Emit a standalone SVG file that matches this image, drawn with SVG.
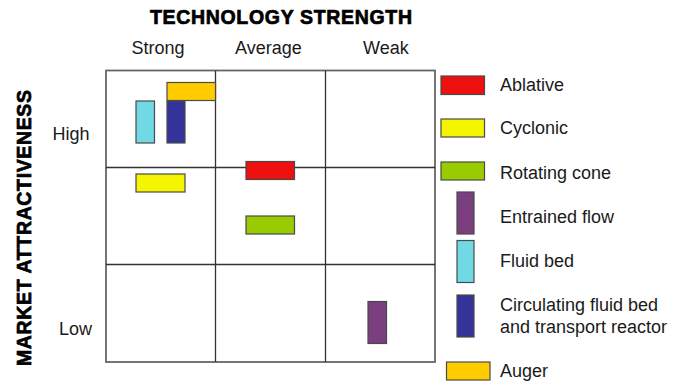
<svg xmlns="http://www.w3.org/2000/svg" width="675" height="389" viewBox="0 0 675 389">
<style>
.lbl{font-family:"Liberation Sans",Arial,sans-serif;font-size:18px;fill:#1a1a1a}
.ttl{font-family:"Liberation Sans",Arial,sans-serif;font-size:19.5px;font-weight:bold;fill:#000;stroke:#000;stroke-width:0.7}
.box{stroke:#4a4a4a;stroke-width:1.2}
.grid{stroke:#333;stroke-width:1.3;fill:none}
.outer{stroke:#666;stroke-width:1.8;fill:none}
</style>
<rect width="675" height="389" fill="#fff"/>
<g id="axes">
<text class="ttl" x="150" y="24" textLength="262" lengthAdjust="spacing">TECHNOLOGY STRENGTH</text>
<text class="ttl" transform="translate(31,366) rotate(-90)" textLength="276" lengthAdjust="spacing">MARKET ATTRACTIVENESS</text>
<text class="lbl" x="131.5" y="54">Strong</text>
<text class="lbl" x="235" y="54">Average</text>
<text class="lbl" x="363" y="54">Weak</text>
<text class="lbl" x="52.5" y="140">High</text>
<text class="lbl" x="59" y="335">Low</text>
</g>
<g id="grid">
<rect class="outer" x="106" y="70.5" width="329" height="291.5"/>
<line class="grid" x1="215.5" y1="70.5" x2="215.5" y2="362"/>
<line class="grid" x1="325.5" y1="70.5" x2="325.5" y2="362"/>
<line class="grid" x1="106" y1="167.5" x2="435" y2="167.5"/>
<line class="grid" x1="106" y1="264.5" x2="435" y2="264.5"/>
</g>
<g id="markers">
<rect id="m-auger" class="box" x="167" y="82.5" width="48.5" height="18" fill="#FFCC00"/>
<rect id="m-fluid" class="box" x="136" y="101" width="18.5" height="42" fill="#70D9E4"/>
<rect id="m-circ" class="box" x="167" y="101" width="18" height="42" fill="#333399"/>
<rect id="m-cyclonic" class="box" x="136" y="174" width="49" height="18" fill="#F5F500"/>
<rect id="m-ablative" class="box" x="246" y="161.5" width="48.5" height="18" fill="#EE0F0F"/>
<rect id="m-rotating" class="box" x="246" y="216" width="48.5" height="18" fill="#99CC00"/>
<rect id="m-entrained" class="box" x="368" y="301.5" width="18.5" height="42" fill="#7B3F7F"/>
</g>
<g id="legend">
<g id="lg-ablative"><rect class="box" x="441" y="76" width="43.5" height="18.5" fill="#EE0F0F"/><text class="lbl" x="500" y="91">Ablative</text></g>
<g id="lg-cyclonic"><rect class="box" x="441" y="119" width="43.5" height="18" fill="#F5F500"/><text class="lbl" x="500" y="134">Cyclonic</text></g>
<g id="lg-rotating"><rect class="box" x="441" y="162" width="43.5" height="18" fill="#99CC00"/><text class="lbl" x="500" y="179">Rotating cone</text></g>
<g id="lg-entrained"><rect class="box" x="457" y="192" width="17" height="42" fill="#7B3F7F"/><text class="lbl" x="500" y="223">Entrained flow</text></g>
<g id="lg-fluid"><rect class="box" x="457" y="240.5" width="17" height="42" fill="#70D9E4"/><text class="lbl" x="500" y="267">Fluid bed</text></g>
<g id="lg-circ"><rect class="box" x="457" y="295" width="17" height="42" fill="#333399"/><text class="lbl" x="500" y="311">Circulating fluid bed</text><text class="lbl" x="500" y="333">and transport reactor</text></g>
<g id="lg-auger"><rect class="box" x="446.5" y="362" width="43.5" height="18" fill="#FFCC00"/><text class="lbl" x="500" y="377">Auger</text></g>
</g>
</svg>
